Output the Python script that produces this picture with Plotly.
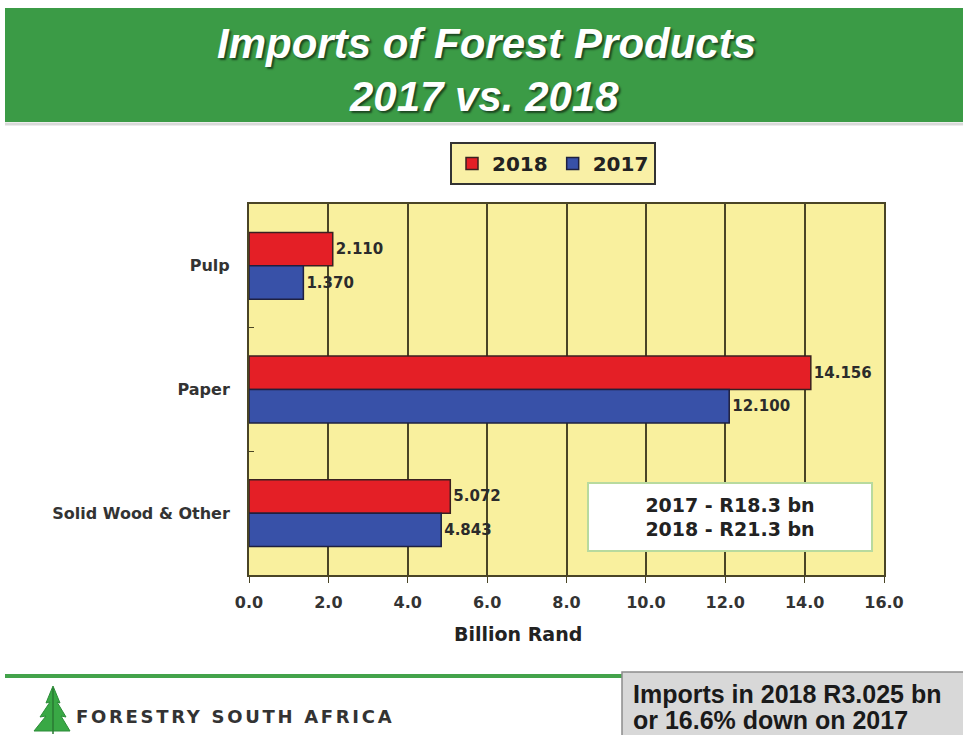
import plotly.graph_objects as go

# Import values, billion Rand
categories = ["Pulp", "Paper", "Solid Wood & Other"]
imports_2018 = [2.110, 14.156, 5.072]
imports_2017 = [1.370, 12.100, 4.843]
x_ticks = [0, 2, 4, 6, 8, 10, 12, 14, 16]
title_lines = ["Imports of Forest Products", "2017 vs. 2018"]
totals_text = ["2017 - R18.3 bn", "2018 - R21.3 bn"]
summary_text = ["Imports in 2018 R3.025 bn", "or 16.6% down on 2017"]

W, H = 963, 735
L, R, T, B = 249, 884, 204, 575  # plot area in pixels


def px(x):
    return (x - L) / (R - L)


def py(y):
    return (B - y) / (B - T)


ARIAL = "Liberation Sans, Arial, sans-serif"
WIDE = "DejaVu Sans, Verdana, sans-serif"
RED = "#e41f26"
BLUE = "#3851a8"
DARK = "#4a4526"
LABEL_FONT = dict(family=WIDE, size=15, color="#2b2b2b", weight="bold")

fig = go.Figure()
fig.add_trace(go.Bar(
    name="2018", y=categories, x=imports_2018, orientation="h",
    marker=dict(color=RED, line=dict(color="#3a2020", width=1.5)),
    texttemplate="%{x:.3f}", textposition="outside",
    textfont=LABEL_FONT, cliponaxis=False,
))
fig.add_trace(go.Bar(
    name="2017", y=categories, x=imports_2017, orientation="h",
    marker=dict(color=BLUE, line=dict(color="#1e2040", width=1.5)),
    texttemplate="%{x:.3f}", textposition="outside",
    textfont=LABEL_FONT, cliponaxis=False,
))

shapes = [
    # green header band
    dict(type="rect", xref="paper", yref="paper",
         x0=px(5), x1=px(970), y0=py(8), y1=py(122),
         fillcolor="#3b9b46", line=dict(width=0), layer="below"),
    dict(type="line", xref="paper", yref="paper",
         x0=px(5), x1=px(970), y0=py(124), y1=py(124),
         line=dict(color="#d9d9d9", width=3)),
    # footer rule
    dict(type="line", xref="paper", yref="paper",
         x0=px(5), x1=px(622), y0=py(676), y1=py(676),
         line=dict(color="#43a34b", width=4)),
    # grey summary box
    dict(type="rect", xref="paper", yref="paper",
         x0=px(622), x1=px(980), y0=py(672), y1=py(745),
         fillcolor="#d8d8d8", line=dict(color="#8c8c8c", width=1.5)),
    # tree emblem
    dict(type="path", xref="paper", yref="paper",
         path=("M {} {} L {} {} L {} {} L {} {} L {} {} L {} {} L {} {} "
               "L {} {} L {} {} L {} {} L {} {} Z").format(
             px(53), py(686), px(46), py(703), px(50), py(702),
             px(40), py(717), px(46), py(716), px(34), py(731),
             px(70), py(731), px(61), py(716), px(66), py(717),
             px(57), py(702), px(60), py(703)),
         fillcolor="#39a845", line=dict(color="#2c8c38", width=1)),
    dict(type="line", xref="paper", yref="paper",
         x0=px(53), x1=px(53), y0=py(688), y1=py(734),
         line=dict(color="#2a7a33", width=1.5)),
]

title_font = dict(family=ARIAL, size=42, color="white", weight="bold",
                  style="italic", shadow="2px 2px 2px rgba(0,0,0,0.55)")

annotations = [
    dict(xref="paper", yref="paper", x=px(486), y=py(43),
         text=title_lines[0], showarrow=False,
         xanchor="center", yanchor="middle", font=title_font),
    dict(xref="paper", yref="paper", x=px(484), y=py(96),
         text=title_lines[1], showarrow=False,
         xanchor="center", yanchor="middle", font=title_font),
    dict(xref="paper", yref="paper", x=px(518), y=py(634),
         text="Billion Rand", showarrow=False,
         xanchor="center", yanchor="middle",
         font=dict(family=WIDE, size=19, color="#222222", weight="bold")),
    dict(xref="paper", yref="paper", x=px(730), y=py(517),
         text="<br>".join(totals_text), showarrow=False,
         xanchor="center", yanchor="middle", align="center",
         width=280, height=64, bgcolor="white",
         bordercolor="#b8da9e", borderwidth=2,
         font=dict(family=WIDE, size=19, color="#222222", weight="bold")),
    dict(xref="paper", yref="paper", x=px(631), y=py(694),
         text=summary_text[0], showarrow=False,
         xanchor="left", yanchor="middle",
         font=dict(family=ARIAL, size=25, color="#1a1a1a", weight="bold")),
    dict(xref="paper", yref="paper", x=px(631), y=py(720),
         text=summary_text[1], showarrow=False,
         xanchor="left", yanchor="middle",
         font=dict(family=ARIAL, size=25, color="#1a1a1a", weight="bold")),
    dict(xref="paper", yref="paper", x=px(74), y=py(716),
         text='<span style="letter-spacing:2.7px">FORESTRY SOUTH AFRICA</span>',
         showarrow=False, xanchor="left", yanchor="middle",
         font=dict(family=WIDE, size=18, color="#333333", weight="bold")),
]

fig.update_layout(
    width=W, height=H,
    margin=dict(l=L, r=W - R, t=T, b=H - B),
    paper_bgcolor="white", plot_bgcolor="#f9f09e",
    barmode="group", bargap=0.46, bargroupgap=0,
    showlegend=True,
    legend=dict(
        orientation="h", x=px(553), xanchor="center", y=py(142), yanchor="top",
        bgcolor="#f9f0a6", bordercolor="#333333", borderwidth=2,
        font=dict(family=WIDE, size=20, color="#222222", weight="bold"),
        itemwidth=30, traceorder="normal",
    ),
    xaxis=dict(
        range=[0, 16], tickvals=x_ticks, tickformat=".1f",
        showgrid=True, gridcolor=DARK, gridwidth=2,
        showline=True, mirror=True, linecolor=DARK, linewidth=2,
        ticks="outside", ticklen=6, tickcolor=DARK, zeroline=False,
        ticklabelstandoff=6,
        tickfont=dict(family=WIDE, size=16, color="#333333", weight="bold"),
    ),
    yaxis=dict(
        type="category", categoryorder="array", categoryarray=categories,
        autorange="reversed",
        showline=True, mirror=True, linecolor=DARK, linewidth=2,
        showgrid=False, ticks="inside", tickson="boundaries",
        ticklen=5, tickcolor=DARK, ticklabelstandoff=14,
        tickfont=dict(family=WIDE, size=16, color="#333333", weight="bold"),
    ),
    shapes=shapes,
    annotations=annotations,
)

fig.write_html("out.html")
